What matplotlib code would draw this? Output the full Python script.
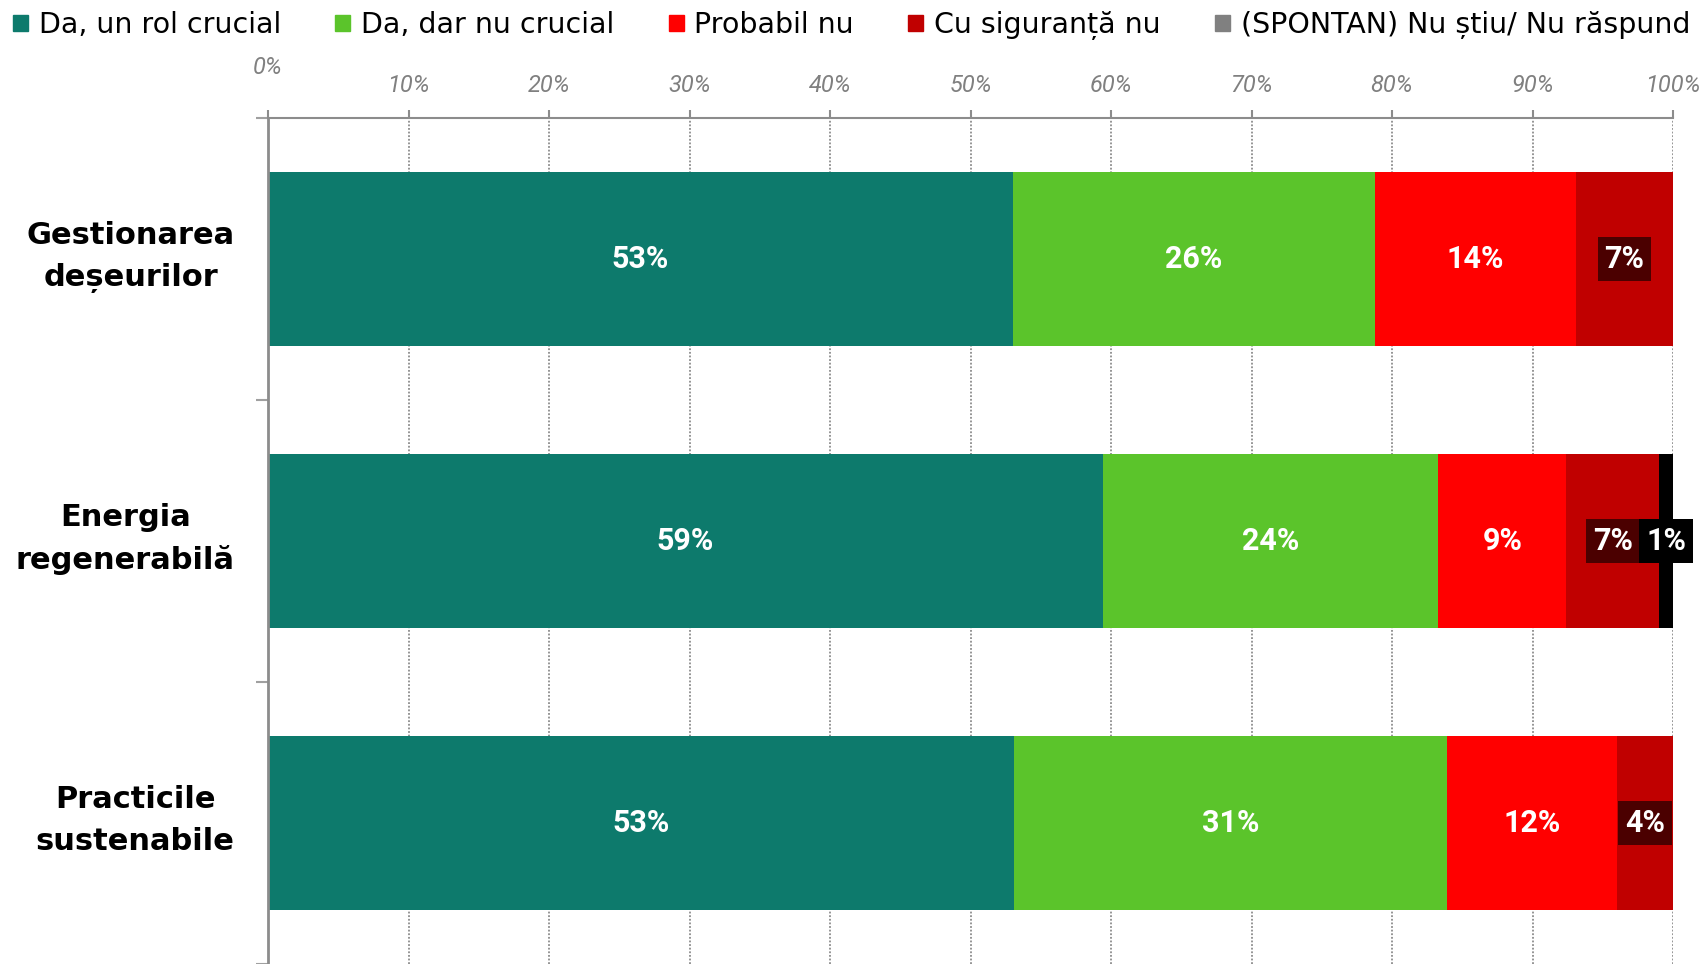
import matplotlib
matplotlib.use("Agg")
import matplotlib.pyplot as plt
import matplotlib.patches as mpatches
from matplotlib.transforms import ScaledTranslation
import numpy as np

# ---------------- data ----------------
categories = ["Gestionarea\ndeșeurilor", "Energia\nregenerabilă", "Practicile\nsustenabile"]
series_names = ["Da, un rol crucial", "Da, dar nu crucial", "Probabil nu",
                "Cu siguranță nu", "(SPONTAN) Nu știu/ Nu răspund"]
da_crucial = [53.0, 59.4, 53.1]
da_nu_crucial = [25.8, 23.9, 30.8]
probabil_nu = [14.3, 9.1, 12.1]
sigur_nu = [6.9, 6.6, 4.0]
nu_stiu = [0.0, 1.0, 0.0]
x_ticks = [0, 10, 20, 30, 40, 50, 60, 70, 80, 90, 100]
x_tick_labels = [f"{t}%" for t in x_ticks]

series = [da_crucial, da_nu_crucial, probabil_nu, sigur_nu, nu_stiu]
bar_colors = ["#0D7A6C", "#5BC42B", "#FF0000", "#C00000", "#000000"]
legend_colors = ["#0D7A6C", "#5BC42B", "#FF0000", "#C00000", "#808080"]
label_boxes = [None, None, None, "#4B0000", "#000000"]

W, H, DPI = 1705, 964, 100
fig = plt.figure(figsize=(W / DPI, H / DPI), dpi=DPI)
ax = fig.add_axes([268 / W, 0, (1673 - 268) / W, 1 - 118 / H])

y = np.arange(len(categories))
left = np.zeros(len(categories))
for vals, col, box in zip(series, bar_colors, label_boxes):
    vals = np.asarray(vals)
    bars = ax.barh(y, vals, left=left, height=0.62, color=col, edgecolor="none", zorder=2)
    for rect, v in zip(bars, vals):
        if v < 0.5:
            continue
        cx = rect.get_x() + rect.get_width() / 2
        cy = rect.get_y() + rect.get_height() / 2
        kw = {}
        if box is not None:
            kw["bbox"] = dict(boxstyle="square,pad=0.22", facecolor=box, edgecolor="none")
        ax.text(cx, cy, f"{v:.0f}%", ha="center", va="center", color="white",
                fontsize=22, fontweight="bold", family=["Roboto", "DejaVu Sans"],
                zorder=5, **kw)
    left = left + vals

ax.set_xlim(0, 100)
ax.set_ylim(len(categories) - 0.5, -0.5)

# x axis on top
ax.xaxis.tick_top()
ax.set_xticks(x_ticks)
ax.set_xticklabels(x_tick_labels, fontsize=17, style="italic", color="#808080",
                   family=["Roboto", "DejaVu Sans"])
ax.tick_params(axis="x", which="major", direction="out", length=6, width=1.5,
               color="#8C8C8C", pad=9, top=True, bottom=False)
ax.xaxis.grid(True, linestyle=(0, (1, 1)), color="#8C8C8C", linewidth=1.3, zorder=0)
ax.set_axisbelow(True)

# y axis: boundary ticks (major), category labels (minor)
ax.set_yticks(np.arange(-0.5, len(categories), 1.0))
ax.set_yticklabels([])
ax.set_yticks(y, minor=True)
ax.set_yticklabels(categories, minor=True, fontsize=22, fontweight="bold", color="black")
ax.tick_params(axis="y", which="major", direction="out", length=9, width=1.5, color="#A0A0A0")
ax.tick_params(axis="y", which="minor", length=0, pad=24)

# raise the 0% label like in the original
lab0 = ax.xaxis.get_major_ticks()[0].label2
lab0.set_transform(lab0.get_transform() + ScaledTranslation(0, 18 / DPI, fig.dpi_scale_trans))
for t in ax.yaxis.get_minor_ticks():
    lbl = t.label1
    lbl.set_multialignment("center")
    lbl.set_linespacing(1.55)
    lbl.set_transform(lbl.get_transform() + ScaledTranslation(0, 12 / DPI, fig.dpi_scale_trans))

for s in ["right", "bottom"]:
    ax.spines[s].set_visible(False)
ax.spines["left"].set_color("#8C8C8C")
ax.spines["left"].set_linewidth(2)
ax.spines["top"].set_color("#8C8C8C")
ax.spines["top"].set_linewidth(1.5)

# legend
fs = 20.5
fs_px = fs * DPI / 72
handles = [mpatches.Patch(color=c, label=n) for c, n in zip(legend_colors, series_names)]
fig.legend(handles=handles, loc="upper left", bbox_to_anchor=(13 / W, 1 - 11 / H),
           ncol=5, frameon=False, fontsize=fs, borderpad=0, borderaxespad=0,
           handlelength=15 / fs_px, handleheight=15 / fs_px,
           handletextpad=11 / fs_px, columnspacing=54 / fs_px)

fig.savefig("out.png", dpi=DPI)
